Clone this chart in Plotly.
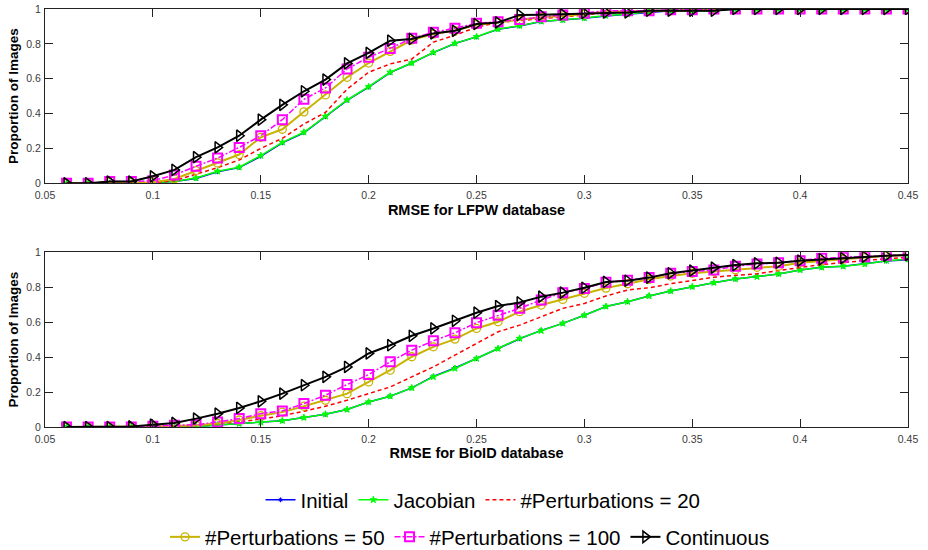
import plotly.graph_objects as go

rmse = [round(0.06 + 0.01 * i, 2) for i in range(40)]
tick_x = [0.05, 0.1, 0.15, 0.2, 0.25, 0.3, 0.35, 0.4, 0.45]
tick_y = [0, 0.2, 0.4, 0.6, 0.8, 1]

names = ["Initial", "Jacobian", "#Perturbations = 20", "#Perturbations = 50",
         "#Perturbations = 100", "Continuous"]

# LFPW (top)
lfpw_initial = [0, 0, 0, 0, 0.004, 0.01, 0.028, 0.066, 0.09, 0.155, 0.232, 0.29, 0.382, 0.476,
                0.552, 0.635, 0.69, 0.75, 0.802, 0.84, 0.884, 0.903, 0.928, 0.936, 0.947, 0.96,
                0.97, 0.984, 0.99, 0.99, 0.99, 1, 1, 1, 1, 1, 1, 1, 1, 1]
lfpw_jacobian = [0, 0, 0, 0, 0.005, 0.01, 0.03, 0.069, 0.092, 0.159, 0.235, 0.293, 0.384, 0.478,
                 0.554, 0.637, 0.69, 0.751, 0.803, 0.841, 0.885, 0.904, 0.929, 0.937, 0.948, 0.962,
                 0.97, 0.985, 0.99, 0.99, 0.99, 1, 1, 1, 1, 1, 1, 1, 1, 1]
lfpw_p20 = [0, 0, 0, 0, 0.003, 0.015, 0.054, 0.09, 0.134, 0.2, 0.258, 0.34, 0.407, 0.54,
            0.637, 0.685, 0.713, 0.81, 0.85, 0.895, 0.923, 0.933, 0.943, 0.952, 0.965, 0.98,
            0.98, 0.985, 0.99, 0.99, 1, 1, 1, 1, 1, 1, 1, 1, 1, 1]
lfpw_p50 = [0, 0, 0.005, 0.005, 0.006, 0.025, 0.073, 0.117, 0.165, 0.264, 0.31, 0.41, 0.507, 0.608,
            0.69, 0.757, 0.822, 0.856, 0.876, 0.91, 0.923, 0.935, 0.952, 0.96, 0.97, 0.985,
            0.985, 0.99, 0.99, 0.995, 1, 1, 1, 1, 1, 1, 1, 1, 1, 1]
lfpw_p100 = [0, 0, 0.01, 0.01, 0.015, 0.048, 0.098, 0.145, 0.206, 0.273, 0.365, 0.482, 0.547, 0.656,
             0.723, 0.774, 0.832, 0.866, 0.89, 0.918, 0.927, 0.94, 0.956, 0.966, 0.977, 0.99,
             0.99, 0.99, 0.995, 0.995, 1, 1, 1, 1, 1, 1, 1, 1, 1, 1]
lfpw_cont = [0, 0, 0.01, 0.01, 0.04, 0.077, 0.15, 0.206, 0.273, 0.365, 0.45, 0.528, 0.595, 0.688,
             0.748, 0.818, 0.828, 0.86, 0.875, 0.914, 0.923, 0.966, 0.967, 0.97, 0.977, 0.98,
             0.98, 0.99, 0.99, 0.99, 0.99, 1, 1, 1, 1, 1, 1, 1, 1, 1]

# BioID (bottom)
bioid_initial = [0, 0, 0, 0, 0, 0.001, 0.002, 0.011, 0.019, 0.027, 0.036, 0.054, 0.073, 0.1,
                 0.143, 0.176, 0.224, 0.29, 0.338, 0.392, 0.449, 0.505, 0.553, 0.593, 0.64, 0.69,
                 0.717, 0.75, 0.778, 0.803, 0.826, 0.847, 0.86, 0.876, 0.899, 0.914, 0.92, 0.933,
                 0.95, 0.957]
bioid_jacobian = [0, 0, 0, 0, 0, 0.001, 0.002, 0.011, 0.019, 0.027, 0.036, 0.054, 0.073, 0.1,
                  0.143, 0.176, 0.224, 0.287, 0.335, 0.392, 0.449, 0.507, 0.551, 0.593, 0.64, 0.69,
                  0.717, 0.75, 0.778, 0.803, 0.826, 0.847, 0.86, 0.876, 0.899, 0.914, 0.92, 0.933,
                  0.952, 0.96]
bioid_p20 = [0, 0, 0, 0, 0.002, 0.004, 0.008, 0.018, 0.03, 0.045, 0.065, 0.09, 0.119, 0.153,
             0.191, 0.229, 0.287, 0.344, 0.411, 0.478, 0.545, 0.583, 0.631, 0.679, 0.707, 0.75,
             0.784, 0.797, 0.82, 0.837, 0.857, 0.868, 0.877, 0.895, 0.914, 0.93, 0.941, 0.953,
             0.964, 0.97]
bioid_p50 = [0, 0, 0, 0, 0.003, 0.006, 0.01, 0.02, 0.04, 0.065, 0.085, 0.119, 0.153, 0.191,
             0.258, 0.325, 0.402, 0.459, 0.503, 0.564, 0.602, 0.66, 0.698, 0.73, 0.765, 0.795,
             0.82, 0.845, 0.864, 0.88, 0.89, 0.9, 0.914, 0.92, 0.94, 0.952, 0.96, 0.97, 0.98, 0.985]
bioid_p100 = [0, 0, 0, 0, 0.005, 0.01, 0.013, 0.029, 0.048, 0.076, 0.092, 0.134, 0.182, 0.243,
              0.3, 0.373, 0.44, 0.493, 0.539, 0.597, 0.64, 0.679, 0.727, 0.769, 0.793, 0.828,
              0.84, 0.855, 0.88, 0.89, 0.899, 0.92, 0.933, 0.94, 0.952, 0.966, 0.971, 0.975,
              0.983, 0.985]
bioid_cont = [0, 0, 0, 0.003, 0.013, 0.023, 0.048, 0.076, 0.109, 0.147, 0.191, 0.239, 0.287, 0.344,
              0.421, 0.468, 0.522, 0.564, 0.608, 0.654, 0.692, 0.713, 0.746, 0.769, 0.797, 0.83,
              0.837, 0.855, 0.88, 0.895, 0.912, 0.927, 0.937, 0.94, 0.952, 0.96, 0.966, 0.975,
              0.98, 0.985]

styles = [
    dict(line=dict(color="#0000FF", width=1.5), marker=dict(symbol="asterisk", size=4, color="#0000FF", line=dict(color="#0000FF", width=1))),
    dict(line=dict(color="#00FF00", width=1.5), marker=dict(symbol="star", size=5, color="#00FF00", line=dict(color="#00FF00", width=1))),
    dict(line=dict(color="#FF0000", width=1.5, dash="4px,3px")),
    dict(line=dict(color="#C8B400", width=2), marker=dict(symbol="circle-open", size=8, color="#C8B400", line=dict(width=1.3))),
    dict(line=dict(color="#FF00FF", width=1.5, dash="6px,2px,2px,2px"), marker=dict(symbol="square-open", size=9, color="#FF00FF", line=dict(width=2))),
    dict(line=dict(color="#000000", width=2), marker=dict(symbol="triangle-right-open", size=10, color="#000000", line=dict(width=1.5))),
]
modes = ["lines+markers", "lines+markers", "lines", "lines+markers", "lines+markers", "lines+markers"]
legend_ids = ["legend", "legend", "legend", "legend2", "legend2", "legend2"]

fig = go.Figure()
top = [lfpw_initial, lfpw_jacobian, lfpw_p20, lfpw_p50, lfpw_p100, lfpw_cont]
bot = [bioid_initial, bioid_jacobian, bioid_p20, bioid_p50, bioid_p100, bioid_cont]
for i, (n, ys) in enumerate(zip(names, top)):
    fig.add_trace(go.Scatter(x=rmse, y=ys, name=n, mode=modes[i], xaxis="x", yaxis="y",
                             legend=legend_ids[i], **styles[i]))
for i, (n, ys) in enumerate(zip(names, bot)):
    fig.add_trace(go.Scatter(x=rmse, y=ys, name=n, mode=modes[i], xaxis="x2", yaxis="y2",
                             showlegend=False, **styles[i]))

tickfont = dict(family="Arial, Liberation Sans", size=10.5, color="#3a3a3a")
xtitlefont = dict(family="Arial, Liberation Sans", size=14.5, color="#000000", weight="bold")
ytitlefont = dict(family="Arial, Liberation Sans", size=13.5, color="#000000", weight="bold")
ax_common = dict(showline=True, linecolor="#222222", linewidth=1, mirror="ticks", ticks="inside",
                 ticklen=8, tickcolor="#222222", showgrid=False, zeroline=False, tickfont=tickfont,
                 automargin=False)

legfont = dict(family="Arial, Liberation Sans", size=20.5, color="#000000")

fig.update_layout(
    width=928, height=550, paper_bgcolor="white", plot_bgcolor="white",
    margin=dict(l=45, r=20, t=9, b=123),
    xaxis=dict(domain=[0, 1], anchor="y", range=[0.05, 0.45], tickvals=tick_x,
               ticktext=[f"{v:g}" for v in tick_x], ticklabelstandoff=2,
               title=dict(text="RMSE for LFPW database", font=xtitlefont, standoff=4), **ax_common),
    yaxis=dict(domain=[0.583, 1], anchor="x", range=[0, 1], tickvals=tick_y,
               ticktext=[f"{v:g}" for v in tick_y], ticklabelstandoff=1,
               title=dict(text="Proportion of Images", font=ytitlefont, standoff=4), **ax_common),
    xaxis2=dict(domain=[0, 1], anchor="y2", range=[0.05, 0.45], tickvals=tick_x,
                ticktext=[f"{v:g}" for v in tick_x], ticklabelstandoff=2,
                title=dict(text="RMSE for BioID database", font=xtitlefont, standoff=4), **ax_common),
    yaxis2=dict(domain=[0, 0.418], anchor="x2", range=[0, 1], tickvals=tick_y,
                ticktext=[f"{v:g}" for v in tick_y], ticklabelstandoff=1,
                title=dict(text="Proportion of Images", font=ytitlefont, standoff=4), **ax_common),
    legend=dict(orientation="h", xref="container", yref="container", x=0.5205, xanchor="center",
                y=0.0909, yanchor="middle",
                font=legfont, bgcolor="rgba(0,0,0,0)", itemwidth=30, tracegroupgap=0),
    legend2=dict(orientation="h", xref="container", yref="container", x=0.5065, xanchor="center",
                 y=0.0236, yanchor="middle",
                 font=legfont, bgcolor="rgba(0,0,0,0)", itemwidth=30, tracegroupgap=0),
)

fig.write_html("out.html", config={"displayModeBar": False},
               post_script="document.body.style.margin='0';")
